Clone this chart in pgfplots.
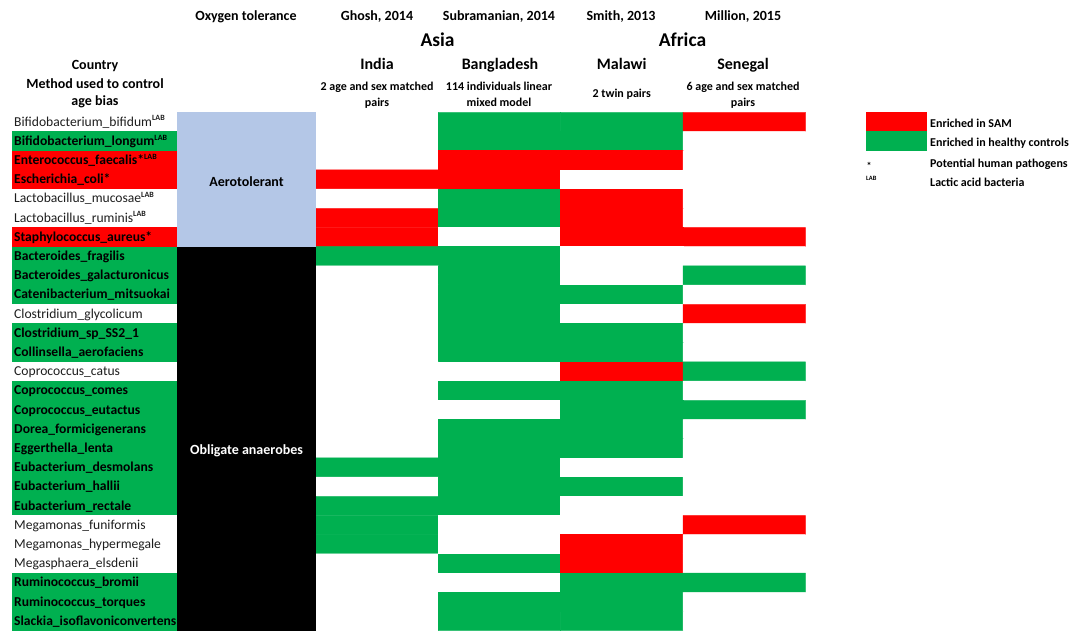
\documentclass[border=0pt]{standalone}
\usepackage{pgfplots}
\pgfplotsset{compat=1.18}
\usepackage{pgfplotstable}
\usepackage{fontspec}
\setmainfont{Carlito}
\definecolor{sam}{RGB}{255,0,0}
\definecolor{hc}{RGB}{0,176,80}
\definecolor{aero}{RGB}{180,199,231}
\definecolor{txt}{RGB}{30,30,30}
\newcommand{\fs}[1]{\fontsize{#1}{#1}\selectfont}
\newcommand{\lab}{\textsuperscript{\fontsize{8}{8}\selectfont\bfseries LAB}}
\newcommand{\bl}{\fontsize{13.6}{15}\selectfont\bfseries}
\newcommand{\rl}{\fontsize{13.6}{15}\selectfont}

% x = column centre (India, Bangladesh, Malawi, Senegal), y = row centre, v: 0 none, 1 SAM, 2 healthy
\pgfplotstableread{
x y v
377 0.5 0
499.4 0.5 2
621.8 0.5 2
744.2 0.5 1
377 1.5 0
499.4 1.5 2
621.8 1.5 2
744.2 1.5 0
377 2.5 0
499.4 2.5 1
621.8 2.5 1
744.2 2.5 0
377 3.5 1
499.4 3.5 1
621.8 3.5 0
744.2 3.5 0
377 4.5 0
499.4 4.5 2
621.8 4.5 1
744.2 4.5 0
377 5.5 1
499.4 5.5 2
621.8 5.5 1
744.2 5.5 0
377 6.5 1
499.4 6.5 0
621.8 6.5 1
744.2 6.5 1
377 7.5 2
499.4 7.5 2
621.8 7.5 0
744.2 7.5 0
377 8.5 0
499.4 8.5 2
621.8 8.5 0
744.2 8.5 2
377 9.5 0
499.4 9.5 2
621.8 9.5 2
744.2 9.5 0
377 10.5 0
499.4 10.5 2
621.8 10.5 0
744.2 10.5 1
377 11.5 0
499.4 11.5 2
621.8 11.5 2
744.2 11.5 0
377 12.5 0
499.4 12.5 2
621.8 12.5 2
744.2 12.5 0
377 13.5 0
499.4 13.5 0
621.8 13.5 1
744.2 13.5 2
377 14.5 0
499.4 14.5 2
621.8 14.5 2
744.2 14.5 0
377 15.5 0
499.4 15.5 0
621.8 15.5 2
744.2 15.5 2
377 16.5 0
499.4 16.5 2
621.8 16.5 2
744.2 16.5 0
377 17.5 0
499.4 17.5 2
621.8 17.5 2
744.2 17.5 0
377 18.5 2
499.4 18.5 2
621.8 18.5 0
744.2 18.5 0
377 19.5 0
499.4 19.5 2
621.8 19.5 2
744.2 19.5 0
377 20.5 2
499.4 20.5 2
621.8 20.5 0
744.2 20.5 0
377 21.5 2
499.4 21.5 0
621.8 21.5 0
744.2 21.5 1
377 22.5 2
499.4 22.5 0
621.8 22.5 1
744.2 22.5 0
377 23.5 0
499.4 23.5 2
621.8 23.5 1
744.2 23.5 0
377 24.5 0
499.4 24.5 0
621.8 24.5 2
744.2 24.5 2
377 25.5 0
499.4 25.5 2
621.8 25.5 2
744.2 25.5 0
377 26.5 0
499.4 26.5 2
621.8 26.5 2
744.2 26.5 0
}\cells

\begin{document}
\begin{tikzpicture}
\begin{axis}[
  x=1pt, y=19.2pt, y dir=reverse,
  xmin=0, xmax=1083, ymin=-5.849, ymax=27.016,
  hide axis, clip=false,
  colormap={cells}{rgb255=(255,255,255) rgb255=(255,0,0) rgb255=(0,176,80)},
  colormap access=direct,
]
% heat map cells
\addplot[matrix plot*, mesh/cols=4, point meta=explicit] table[x=x, y=y, meta=v] {\cells};

% species label backgrounds
\addplot[fill=hc, draw=none] coordinates {(12,1) (177,1) (177,2) (12,2)};
\addplot[fill=sam, draw=none] coordinates {(12,2) (177,2) (177,4) (12,4)};
\addplot[fill=sam, draw=none] coordinates {(12,6) (177,6) (177,7) (12,7)};
\addplot[fill=hc, draw=none] coordinates {(12,7) (177,7) (177,10) (12,10)};
\addplot[fill=hc, draw=none] coordinates {(12,11) (177,11) (177,13) (12,13)};
\addplot[fill=hc, draw=none] coordinates {(12,14) (177,14) (177,21) (12,21)};
\addplot[fill=hc, draw=none] coordinates {(12,24) (177,24) (177,27.016) (12,27.016)};
% oxygen tolerance column
\addplot[fill=aero, draw=none] coordinates {(177,0) (316,0) (316,7) (177,7)};
\addplot[fill=black, draw=none] coordinates {(177,7) (316,7) (316,27.016) (177,27.016)};
% legend boxes
\addplot[fill=sam, draw=none] coordinates {(866,0) (927,0) (927,1) (866,1)};
\addplot[fill=hc, draw=none] coordinates {(866,1) (927,1) (927,2) (866,2)};

% headers
\begin{scope}[every node/.style={inner sep=0pt, anchor=base, text=black}]
\node[font=\fs{14}\bfseries] at (axis cs:246,-4.781) {Oxygen tolerance};
\node[font=\fs{14}\bfseries] at (axis cs:377,-4.781) {Ghosh, 2014};
\node[font=\fs{14}\bfseries] at (axis cs:499,-4.781) {Subramanian, 2014};
\node[font=\fs{14}\bfseries] at (axis cs:621,-4.781) {Smith, 2013};
\node[font=\fs{14}\bfseries] at (axis cs:743,-4.781) {Million, 2015};
\node[font=\fs{19.5}\bfseries] at (axis cs:437.5,-3.406) {Asia};
\node[font=\fs{19.5}\bfseries] at (axis cs:682.5,-3.406) {Africa};
\node[font=\fs{16}\bfseries] at (axis cs:377,-2.219) {India};
\node[font=\fs{16}\bfseries] at (axis cs:500,-2.219) {Bangladesh};
\node[font=\fs{16}\bfseries] at (axis cs:621.7,-2.219) {Malawi};
\node[font=\fs{16}\bfseries] at (axis cs:743,-2.219) {Senegal};
\node[font=\fs{14}\bfseries] at (axis cs:95,-2.245) {Country};
\node[font=\fs{14}\bfseries] at (axis cs:95,-1.240) {Method used to control};
\node[font=\fs{14}\bfseries] at (axis cs:95,-0.333) {age bias};
\node[font=\fs{12}\bfseries] at (axis cs:377,-1.151) {2 age and sex matched};
\node[font=\fs{12}\bfseries] at (axis cs:377,-0.286) {pairs};
\node[font=\fs{12}\bfseries] at (axis cs:499,-1.151) {114 individuals linear};
\node[font=\fs{12}\bfseries] at (axis cs:499,-0.286) {mixed model};
\node[font=\fs{12}\bfseries] at (axis cs:621.7,-0.755) {2 twin pairs};
\node[font=\fs{12}\bfseries] at (axis cs:743,-1.151) {6 age and sex matched};
\node[font=\fs{12}\bfseries] at (axis cs:743,-0.286) {pairs};
\node[font=\fs{14}\bfseries] at (axis cs:246.5,3.839) {Aerotolerant};
\node[font=\fs{14}\bfseries, text=white] at (axis cs:246.5,17.81) {Obligate anaerobes};
\end{scope}

% legend texts
\begin{scope}[every node/.style={inner sep=0pt, anchor=base west, text=black}]
\node[font=\fs{12}\bfseries] at (axis cs:930,0.80) {Enriched in SAM};
\node[font=\fs{12}\bfseries] at (axis cs:930,1.80) {Enriched in healthy controls};
\node[font=\fs{12}\bfseries] at (axis cs:930,2.88) {Potential human pathogens};
\node[font=\fs{12}\bfseries] at (axis cs:930,3.885) {Lactic acid bacteria};
\node[font=\fs{10}\bfseries] at (axis cs:866.5,3.0) {*};
\node[font=\fs{6.5}\bfseries] at (axis cs:866,3.55) {LAB};
\end{scope}

% species labels
\begin{scope}[every node/.style={inner sep=0pt, anchor=base west}]
\node[font=\rl, text=txt] at (axis cs:14,0.72) {Bifidobacterium\_bifidum\lab};
\node[font=\bl] at (axis cs:14,1.72) {Bifidobacterium\_longum\lab};
\node[font=\bl] at (axis cs:14,2.72) {Enterococcus\_faecalis*\lab};
\node[font=\bl] at (axis cs:14,3.72) {Escherichia\_coli*};
\node[font=\rl, text=txt] at (axis cs:14,4.72) {Lactobacillus\_mucosae\lab};
\node[font=\rl, text=txt] at (axis cs:14,5.72) {Lactobacillus\_ruminis\lab};
\node[font=\bl] at (axis cs:14,6.72) {Staphylococcus\_aureus*};
\node[font=\bl] at (axis cs:14,7.72) {Bacteroides\_fragilis};
\node[font=\bl] at (axis cs:14,8.72) {Bacteroides\_galacturonicus};
\node[font=\bl] at (axis cs:14,9.72) {Catenibacterium\_mitsuokai};
\node[font=\rl, text=txt] at (axis cs:14,10.72) {Clostridium\_glycolicum};
\node[font=\bl] at (axis cs:14,11.72) {Clostridium\_sp\_SS2\_1};
\node[font=\bl] at (axis cs:14,12.72) {Collinsella\_aerofaciens};
\node[font=\rl, text=txt] at (axis cs:14,13.72) {Coprococcus\_catus};
\node[font=\bl] at (axis cs:14,14.72) {Coprococcus\_comes};
\node[font=\bl] at (axis cs:14,15.72) {Coprococcus\_eutactus};
\node[font=\bl] at (axis cs:14,16.72) {Dorea\_formicigenerans};
\node[font=\bl] at (axis cs:14,17.72) {Eggerthella\_lenta};
\node[font=\bl] at (axis cs:14,18.72) {Eubacterium\_desmolans};
\node[font=\bl] at (axis cs:14,19.72) {Eubacterium\_hallii};
\node[font=\bl] at (axis cs:14,20.72) {Eubacterium\_rectale};
\node[font=\rl, text=txt] at (axis cs:14,21.72) {Megamonas\_funiformis};
\node[font=\rl, text=txt] at (axis cs:14,22.72) {Megamonas\_hypermegale};
\node[font=\rl, text=txt] at (axis cs:14,23.72) {Megasphaera\_elsdenii};
\node[font=\bl] at (axis cs:14,24.72) {Ruminococcus\_bromii};
\node[font=\bl] at (axis cs:14,25.72) {Ruminococcus\_torques};
\node[font=\bl] at (axis cs:14,26.72) {Slackia\_isoflavoniconvertens};
\end{scope}
\end{axis}
\pgfresetboundingbox
\path (0,0) rectangle (1083pt,631pt);
\end{tikzpicture}
\end{document}
